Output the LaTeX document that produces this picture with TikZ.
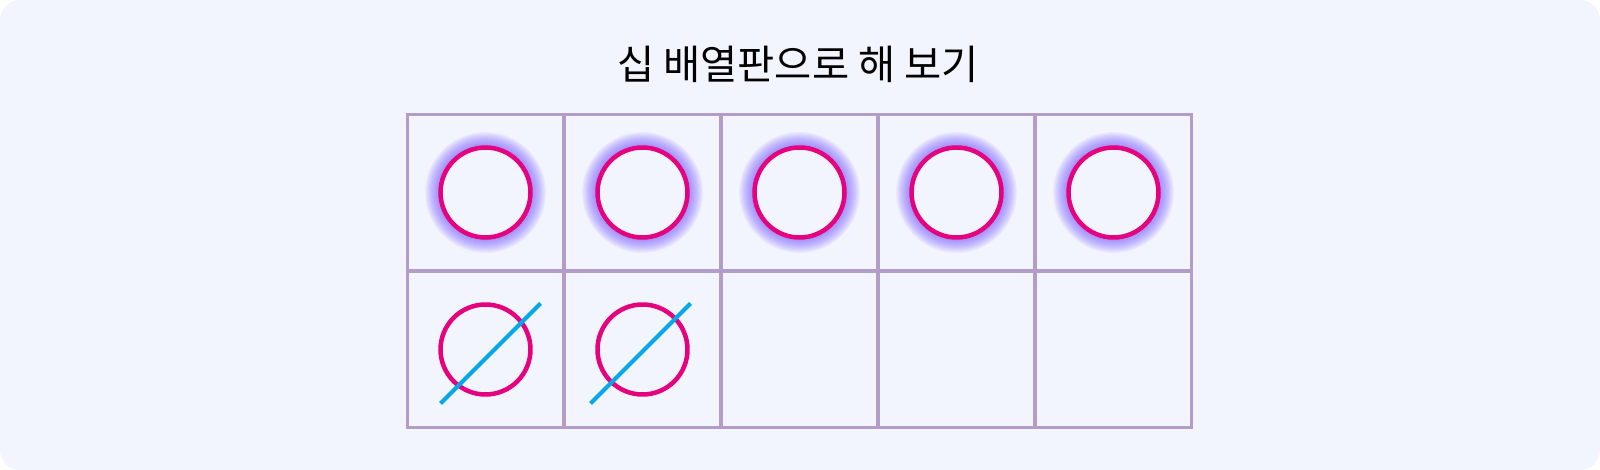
\documentclass[tikz,border=0pt]{standalone}
\usepackage{fontspec}
\newfontfamily\krfont{Noto Sans CJK KR}
\usetikzlibrary{calc}
\definecolor{bgpanel}{HTML}{F2F4FE}
\definecolor{gridline}{HTML}{B49CC8}
\definecolor{ringpink}{HTML}{E5007D}
\definecolor{glowblue}{HTML}{6E4BFF}
\definecolor{slash}{HTML}{00A8E8}

\begin{document}
\begin{tikzpicture}[x=0.02cm, y=-0.02cm,
cell/.style={draw=gridline, line width=0.06cm, minimum size=3.14cm, inner sep=0pt},
ring/.style={circle, draw=ringpink, line width=0.09cm, fill=bgpanel, minimum size=1.8cm, inner sep=0pt},
crossout/.style={draw=slash, line width=0.08cm}
]
\useasboundingbox (0,0) rectangle (1600,470);
\fill[bgpanel, rounded corners=0.4cm] (0,0) rectangle (1600,470);
\node[font=\krfont\fontsize{23}{27}\selectfont] (title) at (798,64) {십 배열판으로 해 보기};
% ten frame
\foreach \c in {1,...,5}
  \foreach \r in {1,2}
    \node[cell] (cell-\r-\c) at ({328.5+157*\c},{35.5+157*\r}) {};
% glowing counters in the top row
\foreach \c in {1,...,5} {
  \foreach \k in {1,...,12}
    \fill[glowblue, opacity=0.065] (cell-1-\c.center) circle ({46+\k*1.2});
  \node[ring] (ring-1-\c) at (cell-1-\c) {};
}
% crossed-out counters
\node[ring] (ring-2-1) at (cell-2-1) {};
\node[ring] (ring-2-2) at (cell-2-2) {};
\draw[crossout] ($(ring-2-1)+(-45,54)$) -- ($(ring-2-1)+(55,-46)$);
\draw[crossout] ($(ring-2-2)+(-52,54)$) -- ($(ring-2-2)+(48,-46)$);
\end{tikzpicture}
\end{document}
